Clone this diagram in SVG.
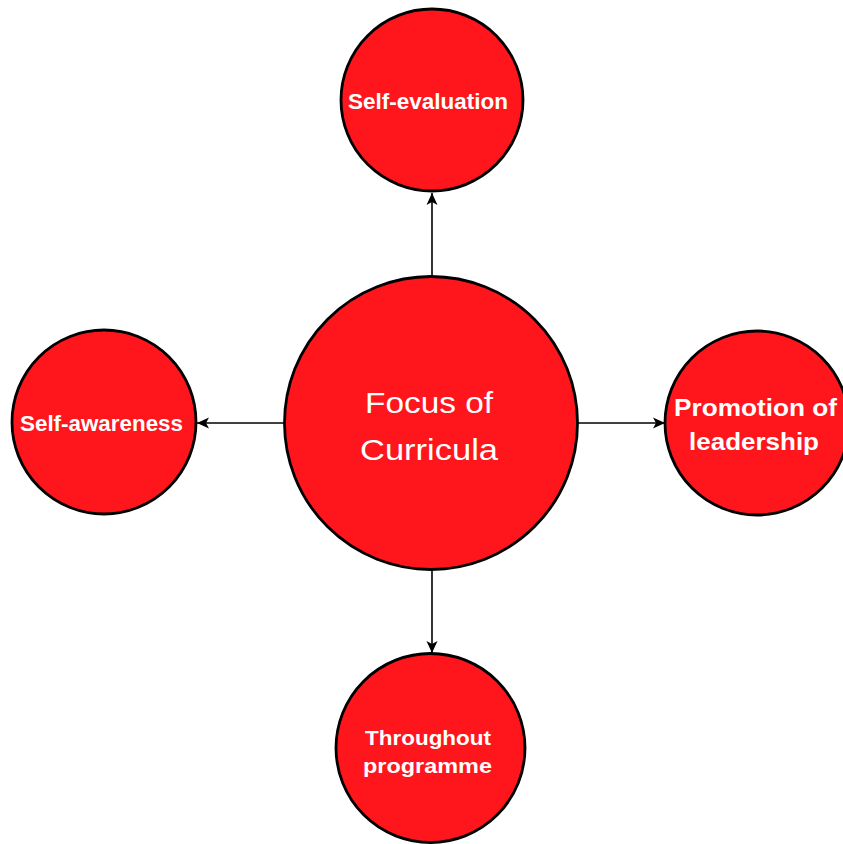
<svg xmlns="http://www.w3.org/2000/svg" width="843" height="844" viewBox="0 0 843 844">
<style>
.node circle{fill:#fe161c;stroke:#000;stroke-width:2.8}
.lbl{fill:#fff;font-family:"Liberation Sans",Arial,sans-serif;font-weight:bold;text-anchor:middle}
.main{fill:#fff;font-family:"Liberation Sans",Arial,sans-serif;font-size:30px;text-anchor:middle}
.conn line{stroke:#000;stroke-width:1.6}
</style>
<defs>
<marker id="ah" viewBox="0 0 12 12" refX="12" refY="6" markerWidth="12" markerHeight="12" markerUnits="userSpaceOnUse" orient="auto">
<path d="M0,0.5 L12,6 L0,11.5 L3,6 Z" fill="#000"/>
</marker>
</defs>
<rect width="843" height="844" fill="#fff"/>
<g class="conn">
<line x1="432" y1="276" x2="432" y2="193" marker-end="url(#ah)"/>
<line x1="285" y1="423" x2="197" y2="423" marker-end="url(#ah)"/>
<line x1="578" y1="423" x2="665" y2="423" marker-end="url(#ah)"/>
<line x1="432" y1="570" x2="432" y2="653" marker-end="url(#ah)"/>
</g>
<g id="focus" class="node">
<circle cx="431" cy="423" r="146.5"/>
<text class="main" x="429" y="413" textLength="128" lengthAdjust="spacingAndGlyphs">Focus of</text>
<text class="main" x="429" y="460" textLength="138" lengthAdjust="spacingAndGlyphs">Curricula</text>
</g>
<g id="self-evaluation" class="node">
<circle cx="432" cy="100" r="91"/>
<text class="lbl" x="428" y="109" font-size="22" textLength="160" lengthAdjust="spacingAndGlyphs">Self-evaluation</text>
</g>
<g id="self-awareness" class="node">
<circle cx="104" cy="422" r="92"/>
<text class="lbl" x="101.5" y="431" font-size="22" textLength="163" lengthAdjust="spacingAndGlyphs">Self-awareness</text>
</g>
<g id="promotion" class="node">
<circle cx="757" cy="423" r="92"/>
<text class="lbl" x="755.5" y="416" font-size="24" textLength="163" lengthAdjust="spacingAndGlyphs">Promotion of</text>
<text class="lbl" x="754" y="450" font-size="24" textLength="130" lengthAdjust="spacingAndGlyphs">leadership</text>
</g>
<g id="throughout" class="node">
<circle cx="430.5" cy="748" r="94.5"/>
<text class="lbl" x="428" y="745" font-size="21" textLength="126" lengthAdjust="spacingAndGlyphs">Throughout</text>
<text class="lbl" x="427.5" y="773" font-size="21" textLength="129" lengthAdjust="spacingAndGlyphs">programme</text>
</g>
</svg>
